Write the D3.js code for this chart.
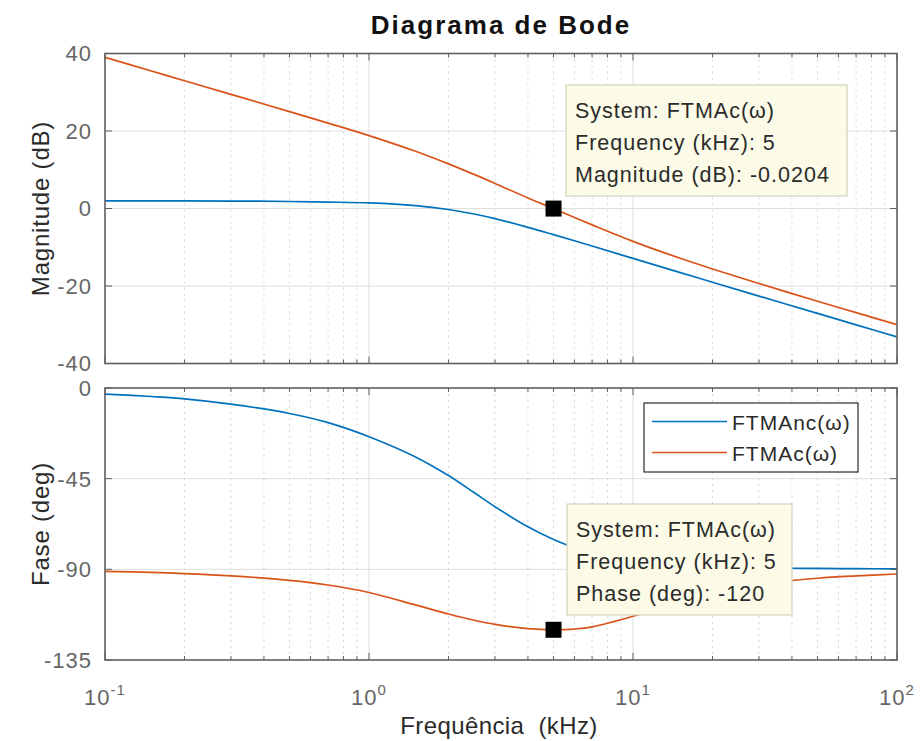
<!DOCTYPE html>
<html>
<head>
<meta charset="utf-8">
<script src="https://cdn.jsdelivr.net/npm/d3@7"></script>
<style>
  html, body { margin: 0; padding: 0; background: #ffffff; }
  svg { display: block; font-family: "Liberation Sans", Arial, sans-serif; }
</style>
</head>
<body>
<svg id="chart" width="920" height="741"></svg>
<script>
// Frequency samples (kHz)
const freqKHz = [0.1, 0.15, 0.2, 0.3, 0.5, 0.7, 1, 1.5, 2, 2.5, 3, 4, 5, 6, 7, 10, 15, 20, 30, 50, 70, 100];

// Magnitude (dB)
const magNc = [1.96, 1.96, 1.95, 1.92, 1.81, 1.66, 1.44, 0.74, -0.26, -1.42, -2.61, -4.86, -6.75, -8.33, -9.69, -12.87, -16.48, -19.03, -22.60, -27.08, -30.02, -33.12];
const magC  = [39.0, 35.48, 32.98, 29.46, 25.0, 22.04, 18.82, 14.77, 11.52, 8.80, 6.47, 2.72, -0.0204, -2.31, -4.22, -8.48, -12.79, -15.60, -19.35, -23.92, -26.88, -29.99];

// Phase (deg)
const phaseNc = [-3.0, -4.23, -5.36, -8.0, -12.66, -17.19, -24.17, -34.2, -43.45, -51.9, -58.9, -68.9, -75.2, -79.25, -81.93, -86.1, -88.2, -88.9, -89.34, -89.56, -89.66, -89.75];
const phaseC  = [-91.0, -91.53, -92.09, -93.23, -95.45, -97.79, -101.51, -107.67, -112.17, -115.27, -117.32, -119.45, -120.0, -119.63, -118.56, -113.29, -105.9, -101.53, -97.30, -94.42, -93.25, -92.32];

const seriesNames = ["FTMAnc(\u03C9)", "FTMAc(\u03C9)"];
const seriesColors = ["#0072BD", "#D95319"];

const xTickExps = [-1, 0, 1, 2];
const magTicks = [40, 20, 0, -20, -40];
const phaseTicks = [0, -45, -90, -135];

// Data tip readouts
const tipSystem = "FTMAc(\u03C9)";
const tipFreq = 5;
const tipMag = -0.0204;
const tipPhase = -120;

const svg = d3.select("#chart");
const L = 105, R = 897;

const x = d3.scaleLog().domain([0.1, 100]).range([L, R]);
const yMag = d3.scaleLinear().domain([-40, 40]).range([363.5, 53.5]);
const yPh = d3.scaleLinear().domain([-135, 0]).range([660, 388]);

const gridMajor = "#dedede", gridMinor = "#d6d6d6";
const axisCol = "#5f5f5f", tickLabCol = "#666666", labelCol = "#2b2b2b";

function isMajor(t) { return Math.abs(Math.log10(t) - Math.round(Math.log10(t))) < 1e-9; }

function drawPanel(id, y, ticks, seriesVals) {
  const [y0, y1] = y.range();          // bottom, top
  const g = svg.append("g");

  svg.append("clipPath").attr("id", "clip-" + id)
    .append("rect").attr("x", L).attr("y", y1).attr("width", R - L).attr("height", y0 - y1);

  // vertical grid: solid at decades, dotted in between
  const xt = x.ticks();
  g.selectAll(".vg").data(xt.filter(t => t > 0.1 && t < 100)).enter().append("line")
    .attr("x1", d => x(d)).attr("x2", d => x(d)).attr("y1", y1).attr("y2", y0)
    .attr("stroke", d => isMajor(d) ? gridMajor : gridMinor)
    .attr("stroke-width", 1)
    .attr("stroke-dasharray", d => isMajor(d) ? null : "2,4");

  // horizontal grid
  g.selectAll(".hg").data(ticks.filter(t => t !== y.domain()[0] && t !== y.domain()[1])).enter().append("line")
    .attr("x1", L).attr("x2", R).attr("y1", d => y(d)).attr("y2", d => y(d))
    .attr("stroke", gridMajor).attr("stroke-width", 1);

  // response curves
  const line = d3.line().x(d => x(d[0])).y(d => y(d[1])).curve(d3.curveCatmullRom.alpha(0.5));
  seriesVals.forEach((vals, i) => {
    g.append("path")
      .datum(freqKHz.map((f, k) => [f, vals[k]]))
      .attr("clip-path", "url(#clip-" + id + ")")
      .attr("d", line)
      .attr("fill", "none")
      .attr("stroke", seriesColors[i])
      .attr("stroke-width", 1.7)
      .attr("stroke-linejoin", "round");
  });

  // x ticks (inward, top and bottom)
  xt.forEach(t => {
    const len = isMajor(t) ? 7 : 4;
    g.append("line").attr("x1", x(t)).attr("x2", x(t)).attr("y1", y0).attr("y2", y0 - len)
      .attr("stroke", axisCol).attr("stroke-width", 1);
    g.append("line").attr("x1", x(t)).attr("x2", x(t)).attr("y1", y1).attr("y2", y1 + len)
      .attr("stroke", axisCol).attr("stroke-width", 1);
  });

  // y ticks (inward, left and right) and labels
  ticks.forEach(t => {
    g.append("line").attr("x1", L).attr("x2", L + 7).attr("y1", y(t)).attr("y2", y(t))
      .attr("stroke", axisCol).attr("stroke-width", 1);
    g.append("line").attr("x1", R).attr("x2", R - 7).attr("y1", y(t)).attr("y2", y(t))
      .attr("stroke", axisCol).attr("stroke-width", 1);
    g.append("text").attr("x", 92).attr("y", y(t)).attr("dy", "0.36em")
      .attr("text-anchor", "end").attr("fill", tickLabCol)
      .style("font-size", "22px").style("letter-spacing", "1px")
      .text(t);
  });

  // axes box
  g.append("rect").attr("x", L).attr("y", y1).attr("width", R - L).attr("height", y0 - y1)
    .attr("fill", "none").attr("stroke", axisCol).attr("stroke-width", 1.6);
  return g;
}

drawPanel("mag", yMag, magTicks, [magNc, magC]);
drawPanel("ph", yPh, phaseTicks, [phaseNc, phaseC]);

// x tick labels as powers of ten
xTickExps.forEach(e => {
  const t = svg.append("text").attr("x", x(Math.pow(10, e))).attr("y", 705)
    .attr("text-anchor", "middle").attr("fill", tickLabCol)
    .style("font-size", "22px").style("letter-spacing", "1px");
  t.append("tspan").text("10");
  t.append("tspan").attr("dy", -10).style("font-size", "15px").text(e);
});

// title and axis labels
svg.append("text").attr("x", 501).attr("y", 34).attr("text-anchor", "middle")
  .attr("fill", "#111").style("font-size", "26px").style("font-weight", "bold")
  .style("letter-spacing", "2px").text("Diagrama de Bode");

svg.append("text").attr("x", 499).attr("y", 734).attr("text-anchor", "middle")
  .attr("fill", labelCol).style("font-size", "24px").style("letter-spacing", "0.4px")
  .style("white-space", "pre").text("Frequ\u00EAncia  (kHz)");

svg.append("text").attr("transform", `translate(49,${(yMag.range()[0] + yMag.range()[1]) / 2}) rotate(-90)`)
  .attr("text-anchor", "middle").attr("fill", labelCol)
  .style("font-size", "24px").style("letter-spacing", "0.8px").text("Magnitude (dB)");

svg.append("text").attr("transform", `translate(49,${(yPh.range()[0] + yPh.range()[1]) / 2}) rotate(-90)`)
  .attr("text-anchor", "middle").attr("fill", labelCol)
  .style("font-size", "24px").style("letter-spacing", "0.8px").text("Fase (deg)");

// legend
const leg = svg.append("g");
leg.append("rect").attr("x", 644).attr("y", 403).attr("width", 214).attr("height", 69)
  .attr("fill", "#ffffff").attr("stroke", "#2b2b2b").attr("stroke-width", 1.2);
seriesNames.forEach((name, i) => {
  const ly = 421.5 + i * 31;
  leg.append("line").attr("x1", 652).attr("x2", 727).attr("y1", ly).attr("y2", ly)
    .attr("stroke", seriesColors[i]).attr("stroke-width", 1.7);
  leg.append("text").attr("x", 732).attr("y", ly + 8).attr("fill", labelCol)
    .style("font-size", "21px").style("letter-spacing", "1px").text(name);
});

// data tips
function dataTip(px, py, spec, bx, by) {
  const g = svg.append("g");
  g.append("rect").attr("x", bx).attr("y", by).attr("width", spec.w).attr("height", 111)
    .attr("fill", "#fbfbe7").attr("stroke", "#d2d2bc").attr("stroke-width", 1.2);
  spec.text.forEach((s, i) => {
    g.append("text").attr("x", bx + 9).attr("y", by + 33 + i * 32).attr("fill", "#2b2b2b")
      .style("font-size", "21.5px").style("letter-spacing", "1px").text(s);
  });
  g.append("rect").attr("x", px - 8).attr("y", py - 8).attr("width", 16).attr("height", 16)
    .attr("fill", "#000");
}

dataTip(x(tipFreq), yMag(tipMag), {
  w: 281,
  text: ["System: " + tipSystem, "Frequency (kHz): " + tipFreq, "Magnitude (dB): " + tipMag]
}, 566, 85);

dataTip(x(tipFreq), yPh(tipPhase), {
  w: 225,
  text: ["System: " + tipSystem, "Frequency (kHz): " + tipFreq, "Phase (deg): " + tipPhase]
}, 567, 504);
</script>
</body>
</html>
